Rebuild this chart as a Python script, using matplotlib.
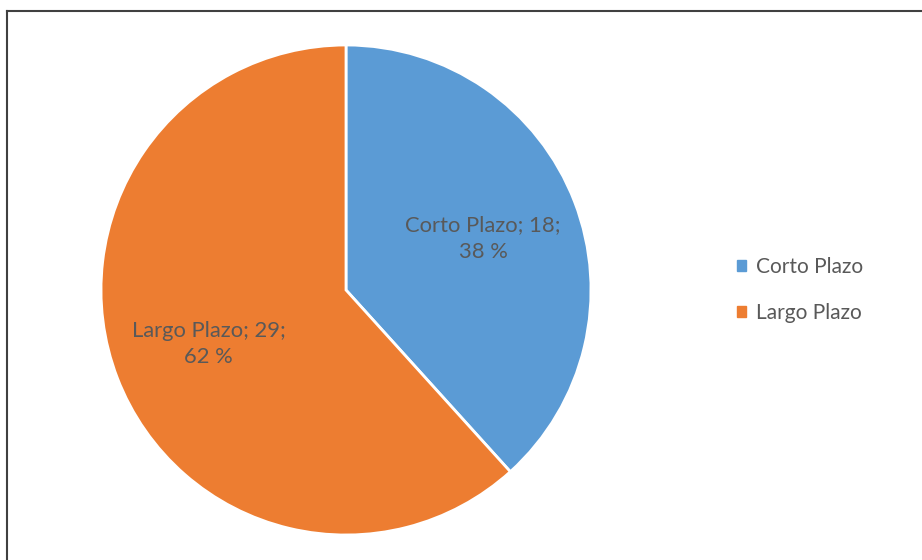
import matplotlib.pyplot as plt
from matplotlib.lines import Line2D

# data
categories = ["Corto Plazo", "Largo Plazo"]
values = [18, 29]
colors = ["#5B9BD5", "#ED7D31"]

plt.rcParams["font.family"] = ["Lato", "DejaVu Sans"]
text_color = "#595959"

fig = plt.figure(figsize=(9.22, 5.6), dpi=100)

# outer frame (left and top edges visible)
fig.add_artist(Line2D([6.5 / 922, 6.5 / 922], [0, 1 - 10.5 / 560],
                      transform=fig.transFigure, color="#404040", lw=1.5))
fig.add_artist(Line2D([6.5 / 922, 1], [1 - 10.5 / 560, 1 - 10.5 / 560],
                      transform=fig.transFigure, color="#404040", lw=1.5))

ax = fig.add_axes([101 / 922, 25 / 560, 490 / 922, 490 / 560])
total = sum(values)
wedges, _ = ax.pie(values, colors=colors, startangle=90, counterclock=False,
                   wedgeprops=dict(edgecolor="white", linewidth=2))
ax.set_xlim(-1, 1)
ax.set_ylim(-1, 1)
ax.set_aspect("equal")

label_pos = [(0.56, 0.21), (-0.56, -0.22)]
for cat, v, (x, y) in zip(categories, values, label_pos):
    pct = round(v / total * 100)
    ax.text(x, y, f"{cat}; {v};\n{pct} %", ha="center", va="center",
            fontsize=15.8, color=text_color, linespacing=1.4)

handles = [plt.Rectangle((0, 0), 1, 1, color=c) for c in colors]
fig.legend(handles, categories, loc="center left",
           bbox_to_anchor=(718 / 922, 1 - 290 / 560), frameon=False,
           fontsize=15, labelcolor=text_color, handlelength=0.45,
           handleheight=0.45, handletextpad=0.45, labelspacing=1.25)

fig.savefig("out.png", dpi=100)
